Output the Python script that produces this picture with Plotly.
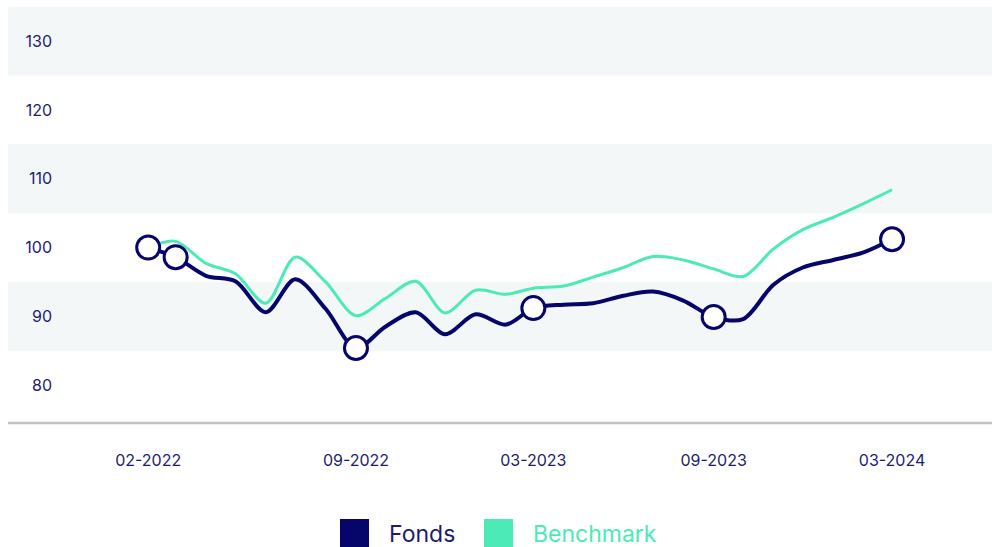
import plotly.graph_objects as go

# Monthly index values (base 100 = 02-2022)
months = [
    "2022-02-01", "2022-03-01", "2022-04-01", "2022-05-01", "2022-06-01", "2022-07-01",
    "2022-08-01", "2022-09-01", "2022-10-01", "2022-11-01", "2022-12-01", "2023-01-01",
    "2023-02-01", "2023-03-01", "2023-04-01", "2023-05-01", "2023-06-01", "2023-07-01",
    "2023-08-01", "2023-09-01", "2023-10-01", "2023-11-01", "2023-12-01", "2024-01-01",
    "2024-02-01", "2024-03-01",
]
fonds = [
    100.0, 98.6, 95.9, 95.1, 90.6, 95.4,
    91.1, 85.4, 88.5, 90.6, 87.4, 90.3,
    88.8, 91.2, 91.7, 91.9, 93.0, 93.6,
    92.3, 89.9, 89.6, 94.6, 97.1, 98.2,
    99.3, 101.2,
]
benchmark = [
    100.0, 100.9, 97.7, 96.2, 91.9, 98.6,
    95.0, 90.1, 92.6, 95.1, 90.5, 93.8,
    93.2, 94.1, 94.4, 95.7, 97.1, 98.7,
    98.2, 96.9, 95.8, 99.8, 102.6, 104.4,
    106.4, 108.4,
]
# Months highlighted with a circle on the fund line
marked_months = ["2022-02-01", "2022-03-01", "2022-09-01", "2023-03-01", "2023-09-01", "2024-03-01"]

tick_months = ["2022-02-01", "2022-09-01", "2023-03-01", "2023-09-01", "2024-03-01"]
y_ticks = [80, 90, 100, 110, 120, 130]
bands = [(85, 95), (105, 115), (125, 135)]

NAVY = "#06066a"
TEXT = "#1c1c6e"
TEAL = "#4beab6"
BAND = "#f3f7f8"

Y_MIN, Y_MAX = 74.5, 135.4
LEFT_EXT = -52 / 932  # bands and baseline reach past the tick labels

fig = go.Figure()

fig.add_trace(go.Scatter(
    x=months, y=benchmark, mode="lines", name="Benchmark",
    line=dict(color=TEAL, width=3, shape="spline", smoothing=0.9),
    showlegend=False, hoverinfo="skip",
))
fig.add_trace(go.Scatter(
    x=months, y=fonds, mode="lines", name="Fonds",
    line=dict(color=NAVY, width=4, shape="spline", smoothing=0.9),
    showlegend=False, hoverinfo="skip",
))
marked_vals = [fonds[months.index(m)] for m in marked_months]
fig.add_trace(go.Scatter(
    x=marked_months, y=marked_vals, mode="markers",
    marker=dict(size=23, color="white", line=dict(color=NAVY, width=3)),
    showlegend=False, hoverinfo="skip",
))

shapes = []
for lo, hi in bands:
    shapes.append(dict(
        type="rect", xref="paper", yref="paper", layer="below",
        x0=LEFT_EXT, x1=1,
        y0=max(0, (lo - Y_MIN) / (Y_MAX - Y_MIN)),
        y1=min(1, (hi - Y_MIN) / (Y_MAX - Y_MIN)),
        fillcolor=BAND, line=dict(width=0),
    ))
# baseline under the chart
shapes.append(dict(
    type="line", xref="paper", yref="paper", layer="above",
    x0=LEFT_EXT, x1=1, y0=0, y1=0,
    line=dict(color="#c2c2c2", width=2.5),
))

# legend: colour squares and labels under the chart
legend_items = [("Fonds", NAVY, TEXT, 280 / 932), ("Benchmark", TEAL, TEAL, 424 / 932)]
annotations = []
for label, sq_color, txt_color, x0 in legend_items:
    shapes.append(dict(
        type="rect", xref="paper", yref="paper",
        x0=x0, x1=x0 + 29 / 932, y0=-96 / 419, y1=-125 / 419,
        fillcolor=sq_color, line=dict(width=0),
    ))
    annotations.append(dict(
        xref="paper", yref="paper", x=x0 + 47 / 932, y=-110.5 / 419,
        xanchor="left", yanchor="middle", showarrow=False,
        text=label, font=dict(family="Inter", size=23, color=txt_color),
    ))

fig.update_layout(
    width=992, height=547,
    margin=dict(l=60, r=0, t=4, b=124),
    paper_bgcolor="white", plot_bgcolor="white",
    shapes=shapes, annotations=annotations,
    showlegend=False,
    font=dict(family="Inter", color=TEXT),
)
fig.update_xaxes(
    type="date", range=["2021-11-03", "2024-06-11"],
    tickvals=tick_months, tickformat="%m-%Y",
    showgrid=False, zeroline=False, showline=False, ticks="",
    tickfont=dict(family="Inter", size=16, color=TEXT),
    ticklabelstandoff=26,
)
fig.update_yaxes(
    range=[Y_MIN, Y_MAX], tickvals=y_ticks,
    showgrid=False, zeroline=False, showline=False, ticks="",
    tickfont=dict(family="Inter", size=16, color=TEXT),
    ticklabelstandoff=7,
)

fig.write_html("out.html")
